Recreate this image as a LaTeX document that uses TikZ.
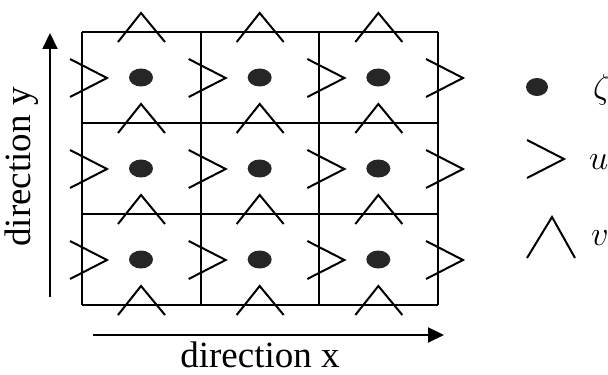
\documentclass[tikz,border=0pt]{standalone}
\usepackage{fontspec}
\setmainfont{Liberation Serif}
\usetikzlibrary{arrows.meta, positioning, shapes.geometric}

\begin{document}
\begin{tikzpicture}[x=0.5pt, y=-0.5pt, line width=1pt,
    zdot/.style={ellipse, fill=black!85, inner sep=0pt, minimum width=12pt, minimum height=9pt},
    lbl/.style={font=\fontsize{18.5}{22}\selectfont, inner sep=0pt},
    arr/.style={-{Triangle[length=8pt, width=7.5pt]}},
    upic/.pic={\draw (-12,-19) -- (25,0) -- (-12,19);},
    vpic/.pic={\draw (-23,10) -- (0,-19) -- (24,10);}]
    \useasboundingbox (0,0) rectangle (608,374);
    % grid
    \foreach \i in {0,...,3} \draw (82+118.67*\i,32) -- (82+118.67*\i,305);
    \foreach \j in {0,...,3} \draw (82,32+91*\j) -- (438,32+91*\j);
    % zeta points, u and v points
    \foreach \i in {0,1,2} \foreach \j in {0,1,2}
      \node[zdot] (z\i\j) at (141+118.67*\i,77.5+91*\j) {};
    \foreach \i in {0,...,3} \foreach \j in {0,1,2}
      \pic at (82+118.67*\i,78+91*\j) {upic};
    \foreach \i in {0,1,2} \foreach \j in {0,...,3}
      \pic at (141+118.67*\i,32+91*\j) {vpic};
    % axes
    \coordinate (yfoot) at (50,297); \coordinate (ytip) at (50,33);
    \coordinate (xfoot) at (93,335); \coordinate (xtip) at (444,335);
    \draw[arr] (yfoot) -- (ytip); \draw[arr] (xfoot) -- (xtip);
    \node[lbl, rotate=90] (ylbl) at (22,167) {direction y};
    \node[lbl] (xlbl) at (260,355) {direction x};
    % legend
    \node[zdot, minimum width=11pt] (lz) at (537,87) {};
    \pic at (539,159) {upic};
    \draw (527,258) -- (552,217) -- (575,258);
    \node[lbl, anchor=west] (lzeta) at (592,90) {$\zeta$};
    \node[lbl, anchor=west] (lu) at (588,162) {$u$};
    \node[lbl, anchor=west] (lv) at (590,238) {$v$};
\end{tikzpicture}
\end{document}
